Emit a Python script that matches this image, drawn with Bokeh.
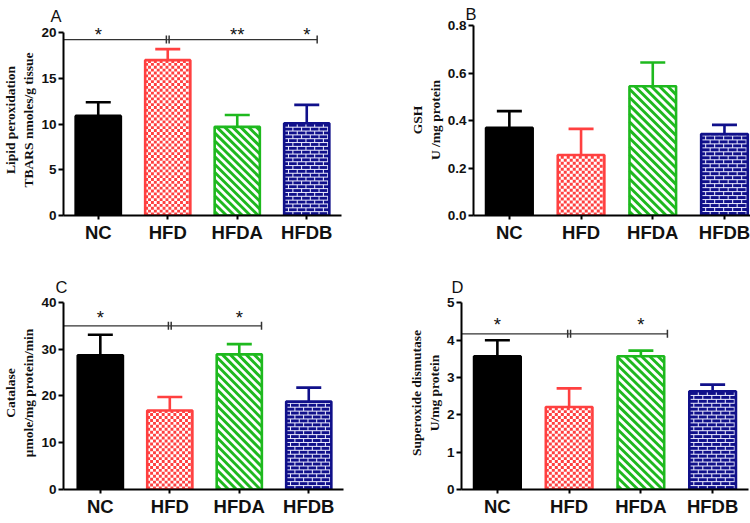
import numpy as np
from bokeh.plotting import figure
from bokeh.layouts import column, row
from bokeh.models import FixedTicker, PrintfTickFormatter
from bokeh.core.properties import value
from bokeh.embed import file_html
from bokeh.resources import INLINE

# ---------------- data ----------------
groups = ["NC", "HFD", "HFDA", "HFDB"]

lipid_mean = [10.9, 17.0, 9.7, 10.1]
lipid_sem = [1.5, 1.2, 1.3, 2.0]

gsh_mean = [0.37, 0.255, 0.545, 0.343]
gsh_sem = [0.07, 0.11, 0.10, 0.039]

catalase_mean = [28.7, 16.9, 28.9, 18.8]
catalase_sem = [4.4, 2.9, 2.2, 3.0]

sod_mean = [3.57, 2.21, 3.57, 2.63]
sod_sem = [0.43, 0.50, 0.15, 0.18]

# significance brackets: [line level, start, middle, end]
lipid_sig_line = [19.25, -0.5, 1.0, 3.15]
lipid_star_x = [0, 2, 3]
lipid_star_text = ["*", "**", "*"]
lipid_star_y = 19.85

catalase_sig_line = [35.0, -0.53, 1.0, 2.32]
catalase_star_x = [0, 2]
catalase_star_text = ["*", "*"]
catalase_star_y = 36.7

sod_sig_line = [4.17, -0.5, 1.0, 2.37]
sod_star_x = [0, 2]
sod_star_text = ["*", "*"]
sod_star_y = 4.43

# ---------------- styles ----------------
RED = "#FF4040"
GREEN = "#1EB91E"
NAVY = "#10108A"
MORTAR = "#EEEEFF"
SIG = "#333333"
BAR_W = 0.65
edge_colors = ["#000000", RED, GREEN, NAVY]
base_fills = ["#000000", "#FFFFFF", "#FFFFFF", NAVY]


def checker(p, xc, top, ppx, ppy, cell=3.0):
    left0 = xc - BAR_W / 2
    ncol = int(np.ceil(BAR_W * ppx / cell))
    nrow = int(np.ceil(top * ppy / cell))
    jj, kk = np.meshgrid(np.arange(nrow), np.arange(ncol), indexing="ij")
    m = ((jj + kk) % 2 == 0)
    jj, kk = jj[m], kk[m]
    L = left0 + kk * cell / ppx
    R = np.minimum(L + cell / ppx, xc + BAR_W / 2)
    B = jj * cell / ppy
    T = np.minimum(B + cell / ppy, top)
    p.quad(left=L, right=R, bottom=B, top=T, fill_color=RED, line_color=None)


def stripes(p, xc, top, ppx, ppy, period=8.2, lw=2.9):
    left0 = xc - BAR_W / 2
    Wp, Hp = BAR_W * ppx, top * ppy
    x0, y0, x1, y1 = [], [], [], []
    c = period / 2
    while c < Wp + Hp:
        ulo, uhi = max(0.0, c - Hp), min(Wp, c)
        if uhi > ulo:
            x0.append(left0 + ulo / ppx); y0.append((c - ulo) / ppy)
            x1.append(left0 + uhi / ppx); y1.append((c - uhi) / ppy)
        c += period
    p.segment(x0=x0, y0=y0, x1=x1, y1=y1, line_color=GREEN, line_width=lw)


def bricks(p, xc, top, ppx, ppy, rowh=4.0, bw=9.0):
    left0 = xc - BAR_W / 2
    Wp, Hp = BAR_W * ppx, top * ppy
    x0, y0, x1, y1 = [], [], [], []
    r = 0
    while r * rowh < Hp:
        v0, v1 = r * rowh, min((r + 1) * rowh, Hp)
        if r > 0:
            x0.append(left0); x1.append(left0 + BAR_W)
            y0.append(v0 / ppy); y1.append(v0 / ppy)
        u = (bw / 2) if r % 2 else bw
        while u < Wp:
            x0.append(left0 + u / ppx); x1.append(left0 + u / ppx)
            y0.append(v0 / ppy); y1.append(v1 / ppy)
            u += bw
        r += 1
    p.segment(x0=x0, y0=y0, x1=x1, y1=y1, line_color=MORTAR, line_width=1)


def make_panel(letter, letter_offset, letter_standoff, mean, sem, ylabel, y_end,
               y_ticks, x_start, x_end, width, height, bl, br, bt, bb, fmt=None,
               sig_line=None, star_x=None, star_text=None, star_y=None):
    p = figure(width=width, height=height, x_range=(x_start, x_end), y_range=(0, y_end),
               output_backend="svg", toolbar_location=None,
               min_border_left=bl, min_border_right=br, min_border_top=bt,
               min_border_bottom=bb)
    p.outline_line_color = None
    p.grid.visible = False
    ppx = (width - bl - br) / (x_end - x_start)
    ppy = (height - bt - bb) / y_end

    xs = np.arange(len(groups))
    tops = np.array(mean) + np.array(sem)

    p.vbar(x=xs, top=mean, bottom=0, width=BAR_W, fill_color=base_fills, line_color=None)
    checker(p, xs[1], mean[1], ppx, ppy)
    stripes(p, xs[2], mean[2], ppx, ppy)
    bricks(p, xs[3], mean[3], ppx, ppy)
    p.vbar(x=xs, top=mean, bottom=0, width=BAR_W, fill_color=None,
           line_color=edge_colors, line_width=2.6)

    p.segment(x0=xs, y0=mean, x1=xs, y1=tops, line_color=edge_colors, line_width=2.6)
    p.scatter(x=xs, y=tops, marker="dash", size=25, line_color=edge_colors, line_width=2.6)

    if sig_line is not None:
        lv, s0, mid, s1 = sig_line
        p.segment(x0=[s0, mid], y0=[lv, lv], x1=[mid, s1], y1=[lv, lv],
                  line_color=SIG, line_width=1.3)
        p.scatter(x=[mid - 0.02, mid + 0.02, s1], y=[lv, lv, lv], marker="dash",
                  angle=np.pi / 2, size=8, line_color=SIG, line_width=1.5)
        p.text(x=star_x, y=[star_y] * len(star_x), text=star_text,
               text_font=value("Liberation Sans"), text_font_size="18.5px",
               text_align="center", text_baseline="middle", text_color="#111111")

    for ax in (p.xaxis[0], p.yaxis[0]):
        ax.axis_line_width = 2
        ax.axis_line_color = "black"
        ax.major_tick_line_width = 2
        ax.major_tick_line_color = "black"
        ax.major_tick_in = 0
        ax.minor_tick_line_color = None
        ax.major_label_text_font = "Liberation Sans"
        ax.major_label_text_font_style = "bold"
        ax.major_label_text_color = "#111111"

    xa = p.xaxis[0]
    xa.ticker = FixedTicker(ticks=list(xs))
    xa.major_label_overrides = {int(i): g for i, g in zip(xs, groups)}
    xa.major_label_text_font_size = "18.5px"
    xa.major_tick_out = 4
    xa.major_label_standoff = 2
    xa.bounds = (x_start, min(x_end, 3.5))

    ya = p.yaxis[0]
    ya.ticker = FixedTicker(ticks=y_ticks)
    ya.bounds = (0, y_ticks[-1])
    ya.major_label_text_font_size = "13.5px"
    ya.major_tick_out = 5
    ya.major_label_standoff = 2
    if fmt:
        ya.formatter = PrintfTickFormatter(format=fmt)
    ya.axis_label = ylabel
    ya.axis_label_text_font = "Liberation Serif"
    ya.axis_label_text_font_style = "bold"
    ya.axis_label_text_font_size = "13.5px"
    ya.axis_label_text_color = "#111111"
    ya.axis_label_standoff = 2

    p.title.text = letter
    p.title.align = "left"
    p.title.offset = letter_offset
    p.title.standoff = letter_standoff
    p.title.text_font = "Liberation Sans"
    p.title.text_font_style = "normal"
    p.title.text_font_size = "16.5px"
    p.title.text_color = "#111111"
    return p


pA = make_panel("A", -13, 0, lipid_mean, lipid_sem,
                "Lipid peroxidation\nTBARS nmoles/g tissue", 20.9, [0, 5, 10, 15, 20],
                -0.5, 3.5, 367, 250, 54, 26, 19, 32,
                sig_line=lipid_sig_line, star_x=lipid_star_x,
                star_text=lipid_star_text, star_y=lipid_star_y)

pB = make_panel("B", -8, 4, gsh_mean, gsh_sem,
                "GSH\nU /mg protein", 0.805, [0, 0.2, 0.4, 0.6, 0.8],
                -0.5, 3.363, 383, 250, 106, 0, 23, 35, fmt="%.1f")

pC = make_panel("C", -8, 1, catalase_mean, catalase_sem,
                "Catalase\nμmole/mg protein/min", 41.28, [0, 10, 20, 30, 40],
                -0.53, 3.5, 367, 269, 54, 24, 46, 26,
                sig_line=catalase_sig_line, star_x=catalase_star_x,
                star_text=catalase_star_text, star_y=catalase_star_y)

pD = make_panel("D", -10, 1, sod_mean, sod_sem,
                "Superoxide dismutase\nU/mg protein", 5.17, [0, 1, 2, 3, 4, 5],
                -0.5, 3.5, 383, 269, 94, 2, 46, 26,
                sig_line=sod_sig_line, star_x=sod_star_x,
                star_text=sod_star_text, star_y=sod_star_y)

layout = column(row(pA, pB), row(pC, pD))
open("out.html", "w").write(file_html(layout, INLINE))
